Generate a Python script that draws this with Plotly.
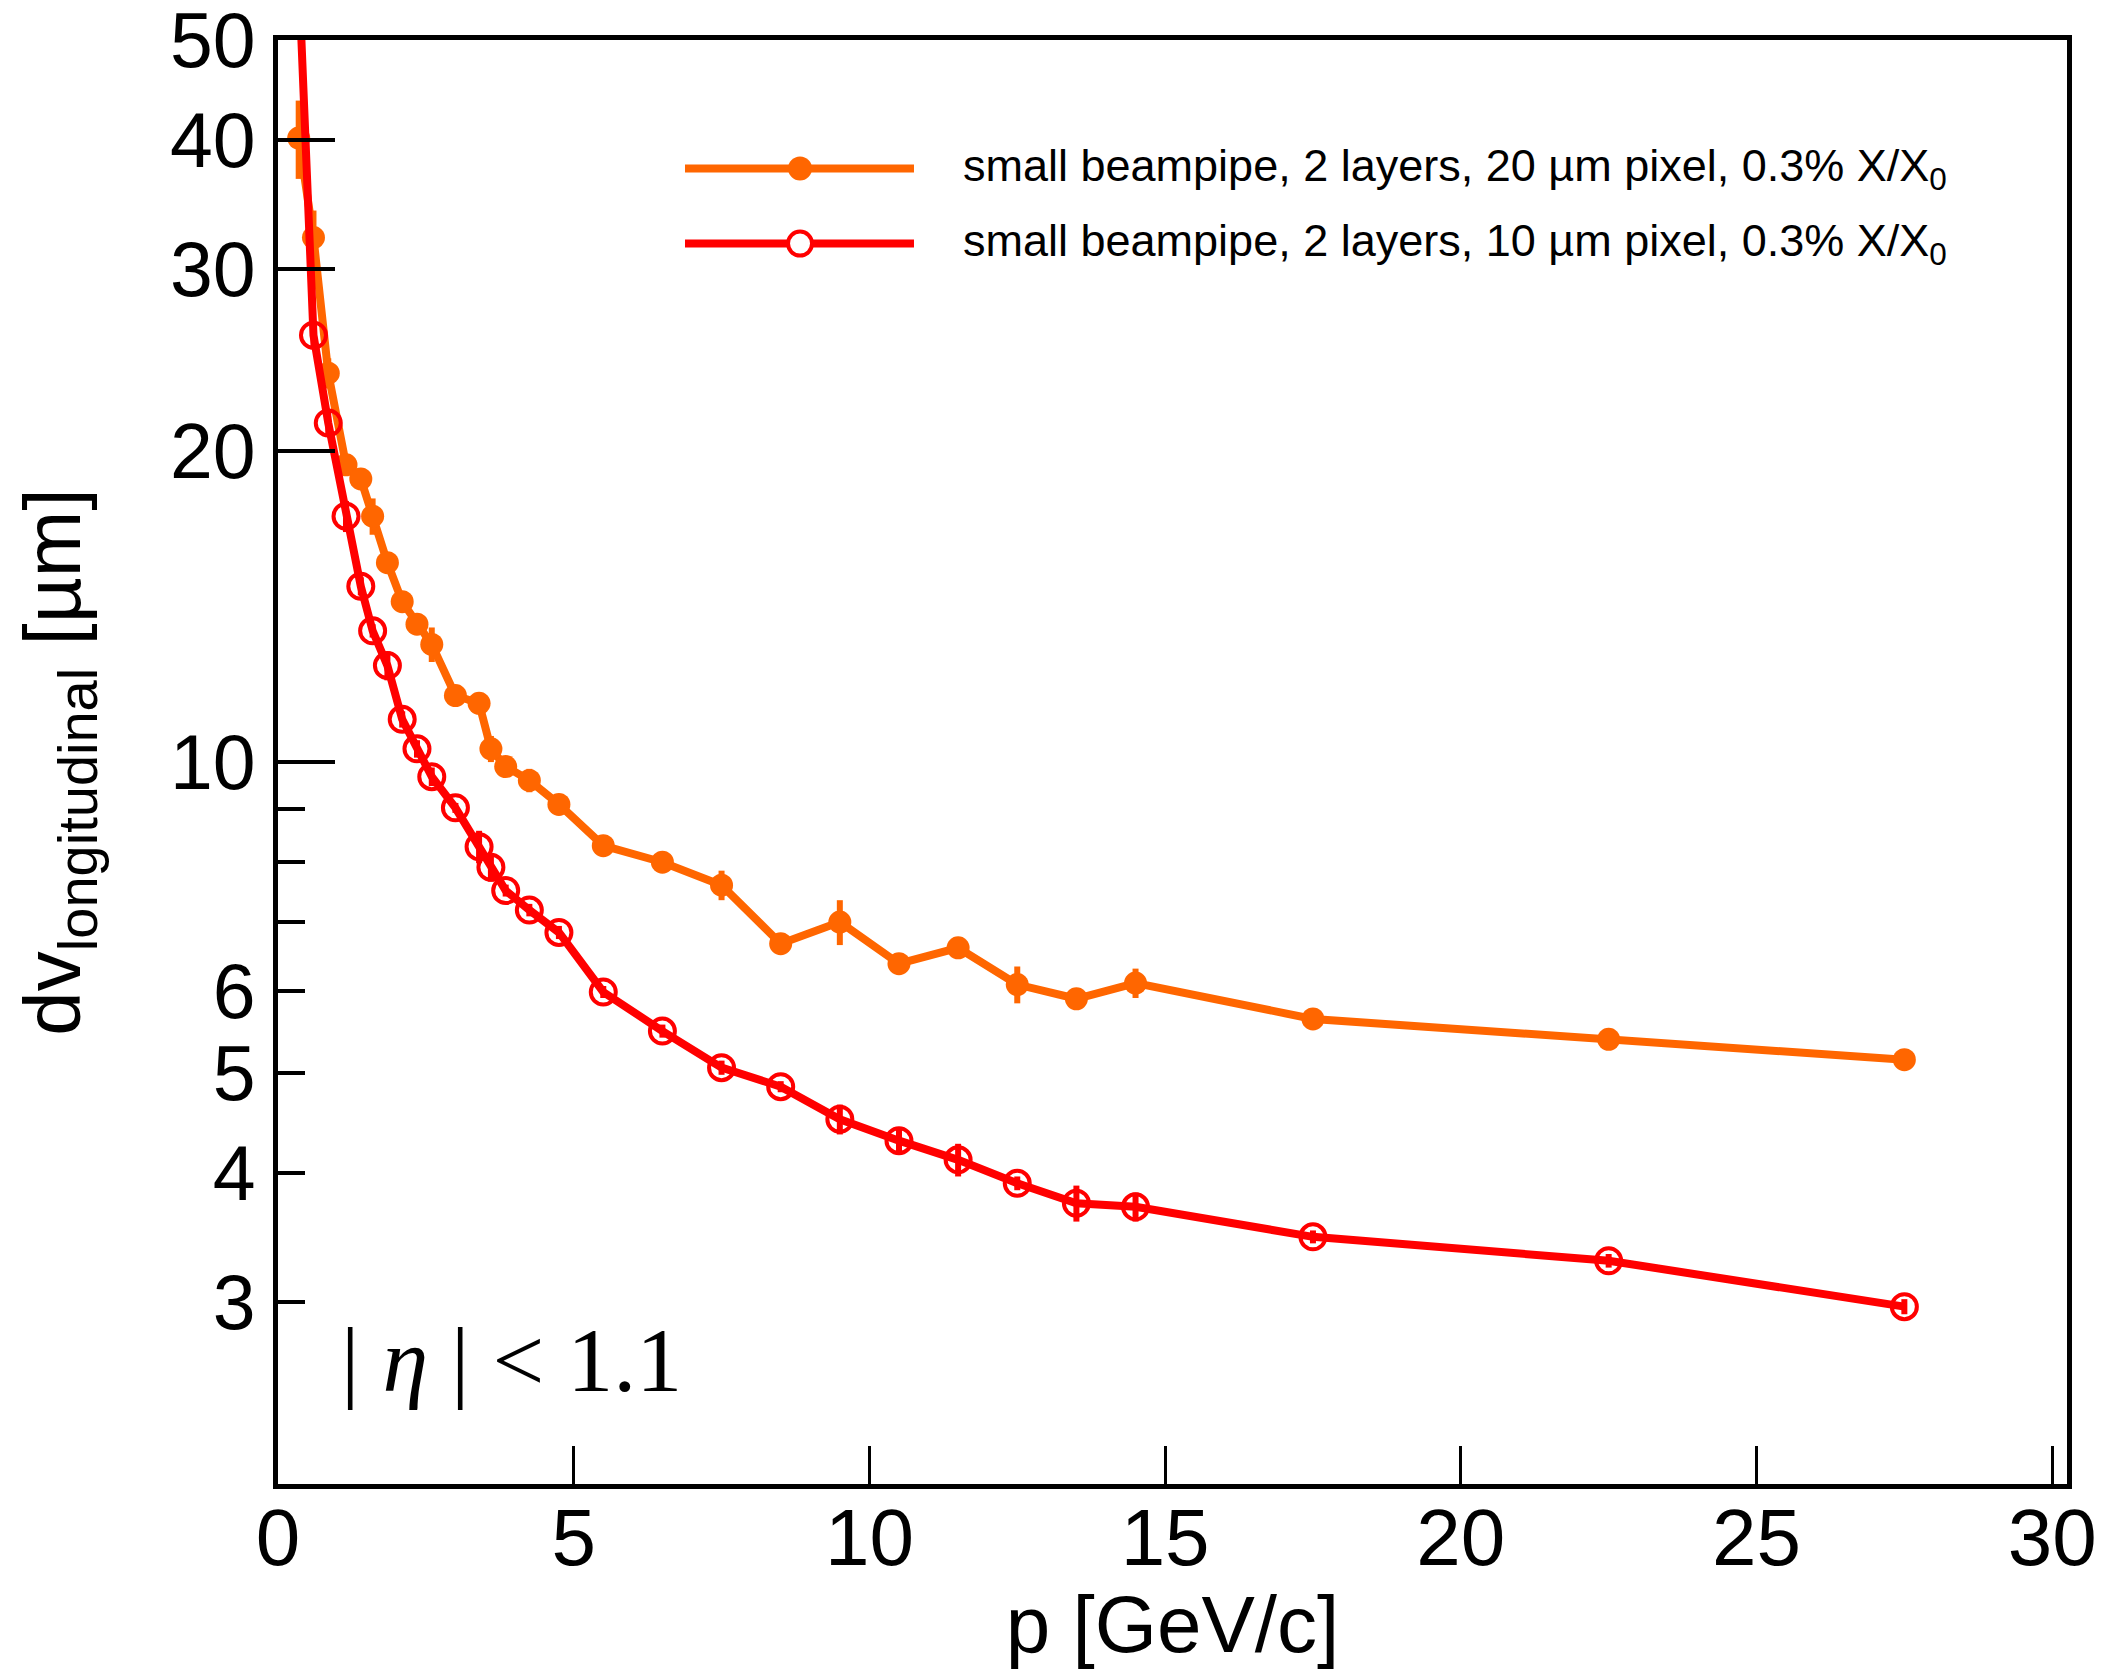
import math
import plotly.graph_objects as go

# ---- data ----
p_orange = [0.35, 0.6, 0.85, 1.15, 1.4, 1.6, 1.85, 2.1, 2.35, 2.6, 3.0, 3.4, 3.6, 3.85, 4.25, 4.75,
            5.5, 6.5, 7.5, 8.5, 9.5, 10.5, 11.5, 12.5, 13.5, 14.5, 17.5, 22.5, 27.5]
dv_orange = [40.2, 32.2, 23.8, 19.4, 18.8, 17.3, 15.6, 14.3, 13.6, 13.0, 11.6, 11.4, 10.3, 9.9, 9.6, 9.1,
             8.3, 8.0, 7.6, 6.67, 7.0, 6.38, 6.61, 6.09, 5.9, 6.11, 5.64, 5.39, 5.15]
err_orange = [3.5, 2.0, 0.8, 0.3, 0.3, 0.7, 0.2, 0.2, 0.2, 0.5, 0.15, 0.2, 0.3, 0.15, 0.25, 0.1,
              0.1, 0.1, 0.25, 0.1, 0.35, 0.1, 0.1, 0.25, 0.1, 0.2, 0.08, 0.08, 0.08]

p_red = [0.35, 0.6, 0.85, 1.15, 1.4, 1.6, 1.85, 2.1, 2.35, 2.6, 3.0, 3.4, 3.6, 3.85, 4.25, 4.75,
         5.5, 6.5, 7.5, 8.5, 9.5, 10.5, 11.5, 12.5, 13.5, 14.5, 17.5, 22.5, 27.5]
dv_red = [58.0, 25.9, 21.3, 17.3, 14.8, 13.4, 12.4, 11.0, 10.3, 9.68, 9.03, 8.28, 7.91, 7.51, 7.19, 6.84,
          5.99, 5.49, 5.06, 4.85, 4.51, 4.30, 4.12, 3.91, 3.74, 3.71, 3.47, 3.29, 2.97]
err_red = [2.0, 0.8, 0.6, 0.6, 0.3, 0.2, 0.4, 0.2, 0.2, 0.2, 0.1, 0.3, 0.25, 0.1, 0.1, 0.1,
           0.08, 0.08, 0.08, 0.06, 0.15, 0.12, 0.15, 0.06, 0.15, 0.12, 0.05, 0.05, 0.05]

labels = ["small beampipe, 2 layers, 20 µm pixel, 0.3% X/X<sub>0</sub>",
          "small beampipe, 2 layers, 10 µm pixel, 0.3% X/X<sub>0</sub>"]

y_major_vals = [3, 4, 5, 6, 7, 8, 9, 10, 20, 30, 40, 50]
y_major_text = ["3", "4", "5", "6", "", "", "", "10", "20", "30", "40", "50"]
y_long_vals = [10, 20, 30, 40]
x_tick_vals = [0, 5, 10, 15, 20, 25, 30]

ORANGE = "#FF6600"
RED = "#FF0000"
FONT = "Liberation Sans"

fig = go.Figure()
fig.add_trace(go.Scatter(
    x=p_orange, y=dv_orange, mode="lines+markers", name=labels[0],
    line=dict(color=ORANGE, width=8),
    marker=dict(symbol="circle", size=23, color=ORANGE),
    error_y=dict(type="data", array=err_orange, color=ORANGE, thickness=6, width=0),
    showlegend=False, cliponaxis=True,
))
fig.add_trace(go.Scatter(
    x=p_red, y=dv_red, mode="lines+markers", name=labels[1], xaxis="x2", yaxis="y2",
    line=dict(color=RED, width=8),
    marker=dict(symbol="circle-open", size=25, color=RED, line=dict(width=4, color=RED)),
    error_y=dict(type="data", array=err_red, color=RED, thickness=6, width=0),
    showlegend=False, cliponaxis=True,
))

yr = [math.log10(2), math.log10(50.02)]
xr = [0, 30.25]

fig.update_layout(
    width=2108, height=1670,
    margin=dict(l=270, r=49, t=32, b=194, autoexpand=False),
    paper_bgcolor="white", plot_bgcolor="white",
    font=dict(family=FONT, color="black"),
    xaxis=dict(
        range=xr, tickvals=x_tick_vals, ticks="inside", ticklen=38, tickwidth=3,
        tickcolor="black", showline=True, linecolor="black", linewidth=5, mirror=True,
        showgrid=False, zeroline=False, showticklabels=False, automargin=False,
        title=dict(text="p [GeV/c]", font=dict(size=80, family=FONT), standoff=109),
    ),
    xaxis2=dict(
        range=xr, tickvals=x_tick_vals, overlaying="x", anchor="free", position=0.0,
        side="bottom", ticks="", showline=False, showgrid=False, zeroline=False,
        tickfont=dict(size=80, family=FONT), ticklabeloverflow="allow", automargin=False,
    ),
    yaxis=dict(
        type="log", range=yr, tickvals=y_major_vals, ticktext=y_major_text,
        ticks="inside", ticklen=27, tickwidth=4, tickcolor="black",
        showline=True, linecolor="black", linewidth=5, mirror=True,
        showgrid=False, zeroline=False, tickfont=dict(size=77, family=FONT),
        ticklabelstandoff=2, automargin=False, ticklabeloverflow="allow",
        title=dict(text="dv<sub>longitudinal</sub> [µm]", font=dict(size=80, family=FONT), standoff=68),
    ),
    yaxis2=dict(
        type="log", range=yr, overlaying="y", side="left", anchor="x",
        tickvals=y_long_vals, ticks="inside", ticklen=57, tickwidth=4, tickcolor="black",
        showticklabels=False, showline=False, showgrid=False, zeroline=False, automargin=False,
    ),
)

# legend drawn manually (long sample lines as in the reference)
leg_y = [0.911, 0.859]
leg_colors = [ORANGE, RED]
for i in range(2):
    fig.add_shape(type="line", xref="paper", yref="paper", x0=0.2275, x1=0.3555,
                  y0=leg_y[i], y1=leg_y[i], line=dict(color=leg_colors[i], width=8))
    fig.add_shape(type="circle", xref="paper", yref="paper", xsizemode="pixel", ysizemode="pixel",
                  xanchor=0.2918, yanchor=leg_y[i], x0=-12, x1=12, y0=-12, y1=12,
                  fillcolor=ORANGE if i == 0 else "white",
                  line=dict(color=leg_colors[i], width=4 if i == 1 else 0))
    fig.add_annotation(xref="paper", yref="paper", x=0.382, y=leg_y[i], xanchor="left", yanchor="middle",
                       text=labels[i], showarrow=False, font=dict(size=45, family=FONT, color="black"))

fig.add_annotation(xref="paper", yref="paper", x=0.034, y=0.086, xanchor="left", yanchor="middle",
                   text="| <i>η</i> | &lt; 1.1", showarrow=False,
                   font=dict(size=92, family="Liberation Serif", color="black"))

fig.write_html("out.html")
